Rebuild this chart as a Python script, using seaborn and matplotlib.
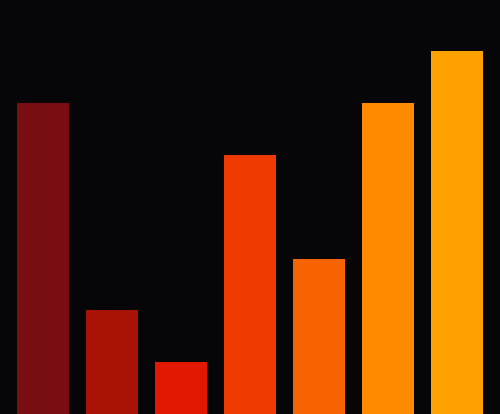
import matplotlib
matplotlib.use("Agg")
import matplotlib.pyplot as plt
import seaborn as sns
import pandas as pd

categories = ["A", "B", "C", "D", "E", "F", "G"]
values = [6, 2, 1, 5, 3, 6, 7]
colors = ["#780e12", "#a81306", "#e31800", "#ee3a00", "#f76300", "#ff8a00", "#ffa200"]

df = pd.DataFrame({"cat": categories, "val": values})

sns.set_theme(style="dark")
fig = plt.figure(figsize=(5, 4.145), dpi=100)
bg = "#060608"
fig.patch.set_facecolor(bg)
ax = fig.add_axes([8.5 / 500, 0, 483 / 500, 1])
ax.set_facecolor(bg)
sns.barplot(data=df, x="cat", y="val", hue="cat", palette=colors, legend=False,
            width=52 / 69, ax=ax, linewidth=0, saturation=1)
ax.set_xlim(-0.5, 6.5)
ax.set_ylim(0, 8)
ax.set_axis_off()
fig.savefig("out.png", dpi=100, facecolor=bg)
